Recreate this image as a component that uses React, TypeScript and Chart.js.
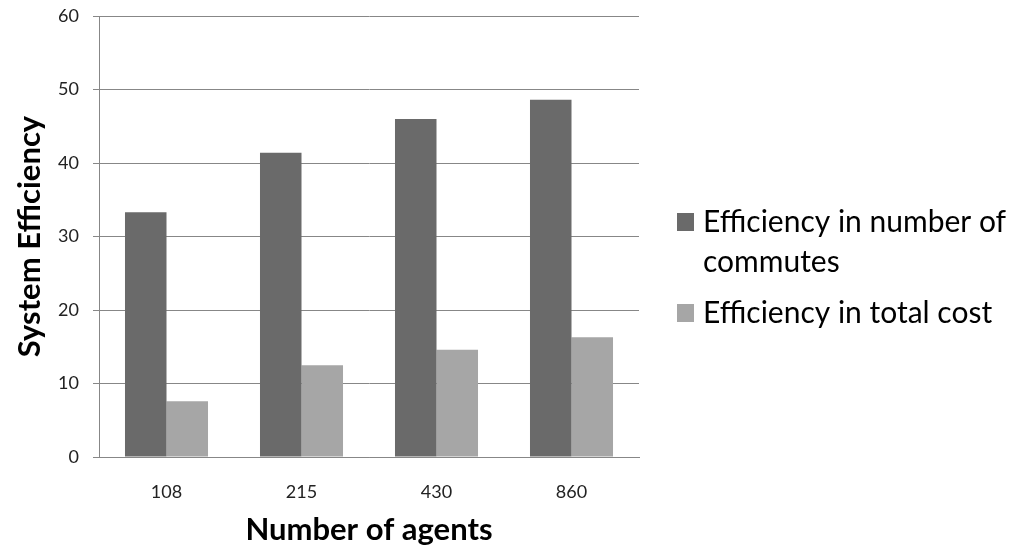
import React, { useEffect, useRef } from "react";
import { Chart, registerables } from "chart.js";

Chart.register(...registerables);

const categories = ["108", "215", "430", "860"];
const commutesEfficiency = [33.3, 41.4, 46.0, 48.6];
const costEfficiency = [7.6, 12.5, 14.6, 16.3];
const legendLabels = [["Efficiency in number of", "commutes"], ["Efficiency in total cost"]];
const yTitle = "System Efficiency";
const xTitle = "Number of agents";

const DARK = "#6a6a6a";
const LIGHT = "#a6a6a6";
const FONT = "Lato, 'Open Sans', sans-serif";

const legendPlugin = {
  id: "customLegend",
  afterDraw(chart: any) {
    const ctx = chart.ctx;
    ctx.save();
    ctx.font = `30px ${FONT}`;
    ctx.textBaseline = "middle";
    ctx.textAlign = "left";
    const colors = [DARK, LIGHT];
    const squareX = 677;
    const textX = 703;
    const rows = [[222, 262], [313]];
    legendLabels.forEach((lines, i) => {
      ctx.fillStyle = colors[i];
      ctx.fillRect(squareX, rows[i][0] - 9, 17, 18);
      ctx.fillStyle = "#000";
      lines.forEach((line, j) => {
        ctx.fillText(line, textX, rows[i][j]);
      });
    });
    ctx.restore();
  },
};

export default function App() {
  const ref = useRef<HTMLCanvasElement>(null);
  useEffect(() => {
    if (!ref.current) return;
    const chart = new Chart(ref.current, {
      type: "bar",
      data: {
        labels: categories,
        datasets: [
          {
            label: legendLabels[0].join(" "),
            data: commutesEfficiency,
            backgroundColor: DARK,
            barPercentage: 1,
            categoryPercentage: 0.615,
          },
          {
            label: legendLabels[1].join(" "),
            data: costEfficiency,
            backgroundColor: LIGHT,
            barPercentage: 1,
            categoryPercentage: 0.615,
          },
        ],
      },
      options: {
        animation: false,
        responsive: true,
        maintainAspectRatio: false,
        layout: { padding: { left: 0, right: 379, top: 16, bottom: 0 } },
        plugins: {
          legend: { display: false },
          tooltip: { enabled: false },
        },
        scales: {
          x: {
            grid: { display: false, drawTicks: false },
            border: { display: true, color: "#878787", width: 1 },
            ticks: { color: "#222", font: { family: FONT, size: 18 }, padding: 24 },
            title: {
              display: true,
              text: xTitle,
              color: "#000",
              font: { family: FONT, size: 31, weight: "bold" },
              padding: { top: 0, bottom: 5 },
            },
            afterFit(scale: any) {
              scale.height = 97;
            },
          },
          y: {
            min: 0,
            max: 60,
            ticks: { stepSize: 10, color: "#222", font: { family: FONT, size: 18 }, padding: 14 },
            grid: { color: "#878787", tickLength: 6, lineWidth: 1 },
            border: { display: true, color: "#878787", width: 1 },
            title: {
              display: true,
              text: yTitle,
              color: "#000",
              font: { family: FONT, size: 31, weight: "bold" },
              padding: { top: 11, bottom: 0 },
            },
            afterFit(scale: any) {
              scale.width = 99;
              scale.paddingTop = 0;
              scale.paddingBottom = 0;
            },
          },
        },
      },
      plugins: [legendPlugin],
    });
    return () => chart.destroy();
  }, []);
  return (
    <div style={{ position: "absolute", left: 0, top: 0, width: 1018, height: 554, background: "#fff" }}>
      <canvas ref={ref} />
    </div>
  );
}
